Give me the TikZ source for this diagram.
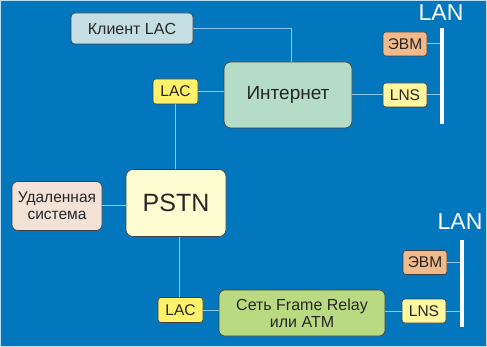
\documentclass[tikz,border=0pt]{standalone}
\usepackage{fontspec}
\setmainfont{Liberation Sans}
\begin{document}
\begin{tikzpicture}[x=1pt,y=-1pt,
  box/.style={draw=black!75,line width=0.6pt,rounded corners=4pt,align=center,inner sep=0pt,text=black!85,font=\fontsize{15.5}{16}\selectfont},
  lac/.style={box,fill=lacy,minimum width=45pt,minimum height=25pt,rounded corners=3pt},
  lns/.style={box,fill=lnsy,minimum width=44pt,minimum height=24pt,rounded corners=3pt},
  evm/.style={box,fill=evmo,minimum width=44pt,minimum height=24pt,rounded corners=3pt},
  conn/.style={draw=linec,line width=1pt},
  lanbar/.style={draw=white,line width=4pt},
  lantext/.style={text=white,font=\fontsize{23}{24}\selectfont,inner sep=0pt}]
\definecolor{bg}{HTML}{0377BD}
\definecolor{linec}{HTML}{8CC8EE}
\definecolor{lacy}{HTML}{FFF26A}
\definecolor{lnsy}{HTML}{FFF6A0}
\definecolor{evmo}{HTML}{F2BA8A}
\definecolor{clientc}{HTML}{C5DEE3}
\definecolor{inetc}{HTML}{B5DCC7}
\definecolor{pstnc}{HTML}{FFFDD2}
\definecolor{remc}{HTML}{F3E2D8}
\definecolor{frc}{HTML}{B9DA80}
\fill[bg] (0,0) rectangle (487,347);
\draw[linec!60,line width=1pt] (0.5,0.5) rectangle (486.5,346.5);
\useasboundingbox (0,0) rectangle (487,347);
% top part
\node[box,fill=clientc,minimum width=122pt,minimum height=31pt,font=\fontsize{16}{17}\selectfont] (client) at (132,28.5) {Клиент LAC};
\node[lac] (lac1) at (175.5,91.5) {LAC};
\node[box,fill=inetc,minimum width=128pt,minimum height=66pt,rounded corners=7pt,font=\fontsize{19}{20}\selectfont] (inet) at (288,95) {Интернет};
\node[evm] (evm1) at (405,44) {ЭВМ};
\node[lns] (lns1) at (405,95) {LNS};
\coordinate (b1t) at (442,28);
\coordinate (b1b) at (442,124);
\node[lantext] (lan1) at (441,13) {LAN};
% middle
\node[box,fill=pstnc,minimum width=100pt,minimum height=67pt,rounded corners=7pt,font=\fontsize{25}{26}\selectfont] (pstn) at (176,203) {PSTN};
\node[box,fill=remc,minimum width=90pt,minimum height=49pt,rounded corners=6pt,font=\fontsize{15.5}{17}\selectfont] (rem) at (57,206) {Удаленная\\система};
% bottom
\node[lac] (lac2) at (180.5,310) {LAC};
\node[box,fill=frc,minimum width=166pt,minimum height=46pt,rounded corners=6pt,font=\fontsize{16}{17}\selectfont] (fr) at (302,313) {Сеть Frame Relay\\или ATM};
\node[evm] (evm2) at (425,262.5) {ЭВМ};
\node[lns] (lns2) at (424,311) {LNS};
\coordinate (b2t) at (462,240);
\coordinate (b2b) at (462,327);
\node[lantext] (lan2) at (460,222) {LAN};
% connectors
\coordinate (cturn) at (291,28.5);
\draw[conn] (client.east) -- (cturn) -- (cturn |- inet.north);
\draw[conn] (lac1.east) -- (lac1.east -| inet.west);
\draw[conn] (lac1.south) -- (lac1.south |- pstn.north);
\draw[conn] (inet.east) -- (lns1.west);
\draw[conn] (evm1.east) -- (evm1.east -| b1t);
\draw[conn] (lns1.east) -- (lns1.east -| b1t);
\draw[conn] (rem.east) -- (rem.east -| pstn.west);
\draw[conn] ([xshift=3pt]pstn.south) -- ([xshift=3pt]pstn.south |- lac2.north);
\draw[conn] (lac2.east) -- (lac2.east -| fr.west);
\draw[conn] (fr.east |- lns2.west) -- (lns2.west);
\draw[conn] (evm2.east) -- (evm2.east -| b2t);
\draw[conn] (lns2.east) -- (lns2.east -| b2t);
\draw[lanbar] (b1t) -- (b1b);
\draw[lanbar] (b2t) -- (b2b);
\end{tikzpicture}
\end{document}
